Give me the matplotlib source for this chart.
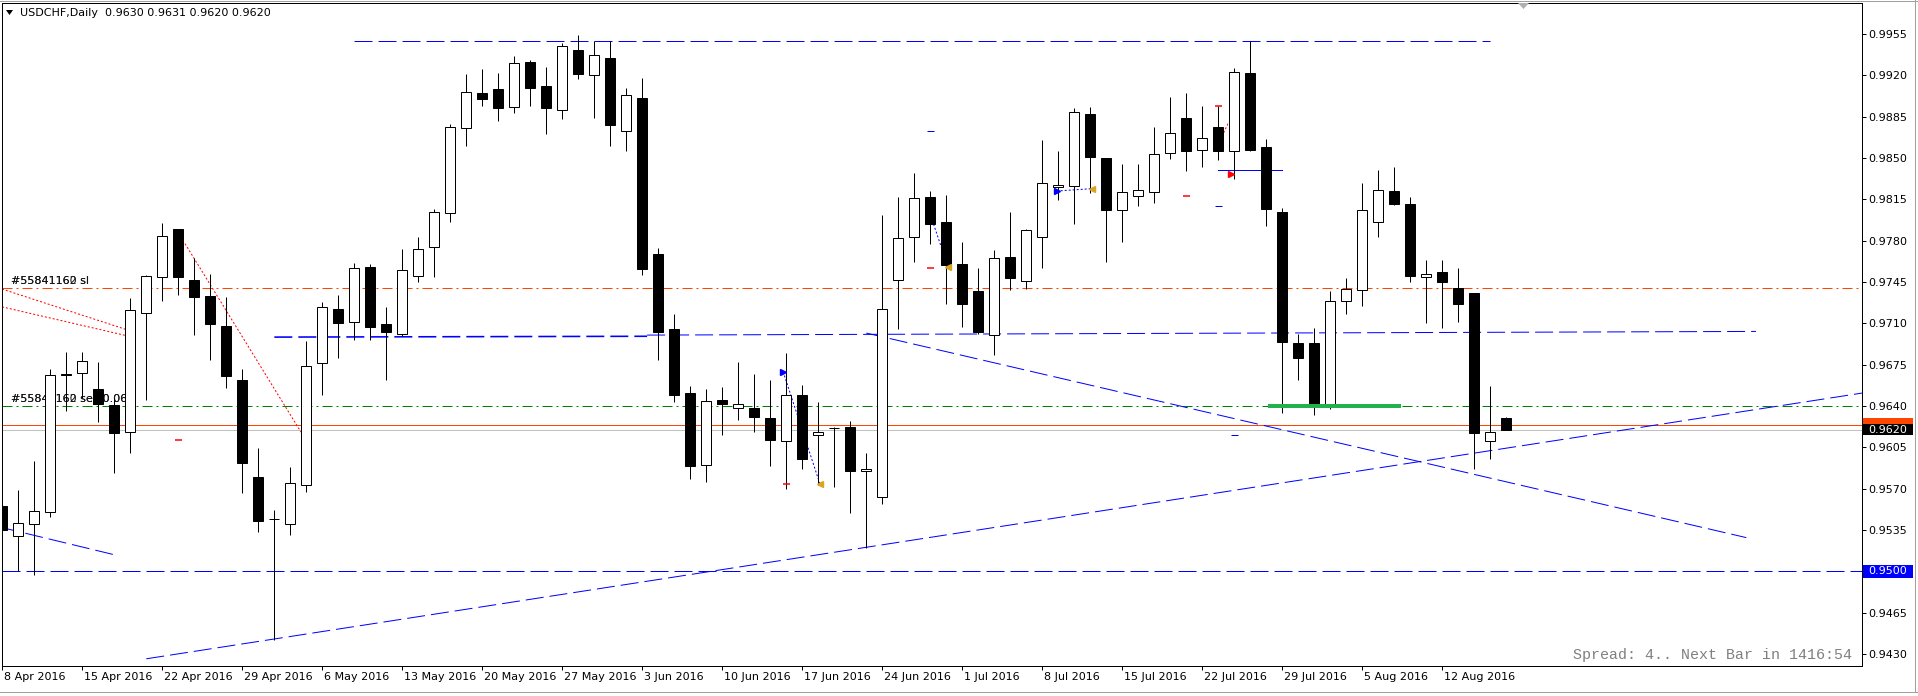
import matplotlib
matplotlib.use("Agg")
import matplotlib.pyplot as plt
import matplotlib.transforms as mtransforms
from matplotlib.patches import Rectangle, Polygon
from matplotlib.lines import Line2D

W, H, DPI = 1918, 696, 100
PX = 72.0 / DPI  # points per pixel

# ---------------- data (USDCHF daily candles, one per bar index) ----------------
opens = [0.9555, 0.9530, 0.9540, 0.9550, 0.9667, 0.9668, 0.9654, 0.9641, 0.9618, 0.9719,
         0.9749, 0.9790, 0.9747, 0.9733, 0.9708, 0.9662, 0.9580, 0.9544, 0.9540, 0.9573,
         0.9676, 0.9722, 0.9711, 0.9758, 0.9709, 0.9701, 0.9750, 0.9775, 0.9803, 0.9875,
         0.9905, 0.9908, 0.9893, 0.9931, 0.9911, 0.9891, 0.9941, 0.9920, 0.9935, 0.9873,
         0.9901, 0.9769, 0.9705, 0.9651, 0.9590, 0.9645, 0.9638, 0.9638, 0.9630, 0.9610,
         0.9649, 0.9615, 0.9621, 0.9622, 0.9585, 0.9563, 0.9747, 0.9783, 0.9817, 0.9796,
         0.9760, 0.9737, 0.9700, 0.9766, 0.9746, 0.9783, 0.9825, 0.9826, 0.9887, 0.9850,
         0.9806, 0.9818, 0.9821, 0.9854, 0.9884, 0.9857, 0.9876, 0.9856, 0.9922, 0.9859,
         0.9804, 0.9693, 0.9693, 0.9640, 0.9729, 0.9738, 0.9796, 0.9822, 0.9811, 0.9749,
         0.9753, 0.9740, 0.9736, 0.9610, 0.9630]
highs = [0.9581, 0.9569, 0.9593, 0.9671, 0.9686, 0.9686, 0.9677, 0.9647, 0.9731, 0.9751,
         0.9795, 0.9790, 0.9765, 0.9752, 0.9732, 0.9671, 0.9604, 0.9552, 0.9588, 0.9695,
         0.9728, 0.9734, 0.9761, 0.9760, 0.9724, 0.9773, 0.9783, 0.9807, 0.9879, 0.9921,
         0.9925, 0.9922, 0.9936, 0.9933, 0.9927, 0.9947, 0.9954, 0.9949, 0.9949, 0.9909,
         0.9918, 0.9774, 0.9718, 0.9657, 0.9654, 0.9656, 0.9677, 0.9667, 0.9662, 0.9685,
         0.9658, 0.9643, 0.9622, 0.9627, 0.9600, 0.9802, 0.9817, 0.9837, 0.9822, 0.9819,
         0.9779, 0.9757, 0.9772, 0.9804, 0.9790, 0.9865, 0.9856, 0.9892, 0.9893, 0.9850,
         0.9845, 0.9845, 0.9876, 0.9902, 0.9905, 0.9894, 0.9894, 0.9926, 0.9949, 0.9866,
         0.9808, 0.9701, 0.9706, 0.9737, 0.9748, 0.9829, 0.9840, 0.9842, 0.9817, 0.9764,
         0.9764, 0.9757, 0.9736, 0.9657, 0.9631]
lows = [0.9523, 0.9500, 0.9497, 0.9546, 0.9636, 0.9647, 0.9626, 0.9583, 0.9600, 0.9645,
        0.9729, 0.9734, 0.9700, 0.9679, 0.9655, 0.9566, 0.9533, 0.9442, 0.9531, 0.9567,
        0.9649, 0.9681, 0.9696, 0.9696, 0.9662, 0.9699, 0.9745, 0.9749, 0.9796, 0.9860,
        0.9894, 0.9881, 0.9888, 0.9894, 0.9870, 0.9883, 0.9917, 0.9884, 0.9860, 0.9856,
        0.9751, 0.9679, 0.9643, 0.9578, 0.9576, 0.9615, 0.9628, 0.9618, 0.9589, 0.9570,
        0.9587, 0.9573, 0.9571, 0.9549, 0.9520, 0.9557, 0.9705, 0.9762, 0.9777, 0.9726,
        0.9707, 0.9701, 0.9683, 0.9738, 0.9739, 0.9757, 0.9814, 0.9794, 0.9820, 0.9762,
        0.9779, 0.9809, 0.9812, 0.9849, 0.9839, 0.9842, 0.9848, 0.9832, 0.9856, 0.9792,
        0.9634, 0.9662, 0.9632, 0.9637, 0.9718, 0.9725, 0.9783, 0.9810, 0.9745, 0.9710,
        0.9706, 0.9711, 0.9587, 0.9595, 0.9620]
closes = [0.9535, 0.9541, 0.9551, 0.9666, 0.9666, 0.9678, 0.9642, 0.9617, 0.9721, 0.9750,
          0.9784, 0.9749, 0.9732, 0.9709, 0.9665, 0.9592, 0.9543, 0.9544, 0.9575, 0.9674,
          0.9724, 0.9710, 0.9757, 0.9707, 0.9703, 0.9755, 0.9773, 0.9804, 0.9876, 0.9906,
          0.9900, 0.9892, 0.9930, 0.9909, 0.9892, 0.9945, 0.9921, 0.9937, 0.9878, 0.9903,
          0.9756, 0.9703, 0.9649, 0.9589, 0.9644, 0.9642, 0.9642, 0.9631, 0.9611, 0.9649,
          0.9595, 0.9618, 0.9621, 0.9585, 0.9587, 0.9722, 0.9782, 0.9816, 0.9794, 0.9759,
          0.9726, 0.9703, 0.9765, 0.9748, 0.9789, 0.9829, 0.9827, 0.9889, 0.9851, 0.9806,
          0.9821, 0.9823, 0.9853, 0.9871, 0.9856, 0.9867, 0.9856, 0.9923, 0.9857, 0.9807,
          0.9694, 0.9681, 0.9640, 0.9729, 0.9739, 0.9806, 0.9823, 0.9811, 0.9750, 0.9752,
          0.9745, 0.9726, 0.9617, 0.9618, 0.9620]

date_tick_bars = [0, 5, 10, 15, 20, 25, 30, 35, 40, 45, 50, 55, 60, 65, 70, 75, 80, 85, 90]
date_labels = ["8 Apr 2016", "15 Apr 2016", "22 Apr 2016", "29 Apr 2016", "6 May 2016",
               "13 May 2016", "20 May 2016", "27 May 2016", "3 Jun 2016", "10 Jun 2016",
               "17 Jun 2016", "24 Jun 2016", "1 Jul 2016", "8 Jul 2016", "15 Jul 2016",
               "22 Jul 2016", "29 Jul 2016", "5 Aug 2016", "12 Aug 2016"]
price_ticks = [0.9955, 0.9920, 0.9885, 0.9850, 0.9815, 0.9780, 0.9745, 0.9710, 0.9675,
               0.9640, 0.9605, 0.9570, 0.9535, 0.9500, 0.9465, 0.9430]

bid_price = 0.9620
ask_price = 0.9624
sl_level = 0.9740
entry_level = 0.9640
support_level = 0.9500

# drawn objects: (x0, y0, x1, y1)
top_resistance = (22.0, 0.9949, 93.0, 0.9949)
mid_line_a = (17.0, 0.96983, 40.3, 0.96990)
mid_line_b = (40.3, 0.97000, 109.6, 0.97031)
rising_trend = (9.0, 0.94259, 116.23, 0.96509)
falling_trend = (54.0, 0.97017, 109.0, 0.95285)
small_left_trend = (-0.02, 0.9537, 7.0, 0.9514)
red_trade_1 = (-0.02, 0.9739, 7.7, 0.97049)
red_trade_2 = (-0.02, 0.97239, 7.7, 0.96997)
red_trade_3 = (11.42, 0.97774, 18.67, 0.96178)
blue_trade_1 = (48.8, 0.9669, 51.1, 0.9574)
blue_trade_2 = (58.2, 0.9794, 59.1, 0.9758)
blue_trade_3 = (65.9, 0.9822, 68.1, 0.9824)
red_trade_4 = (75.8, 0.9856, 76.6, 0.9879)
blue_short_solid = (76.0, 0.9840, 80.0, 0.9840)
green_zone = (79.1, 0.9640, 87.4, 0.9640)
red_marks = [(11.0, 0.9611), (49.0, 0.9574), (58.0, 0.9757), (74.0, 0.9818), (76.0, 0.9894)]
blue_marks = [(58.0, 0.9873), (76.0, 0.9809), (77.0, 0.9615)]
blue_arrows = [(48.8, 0.9669), (65.9, 0.9822)]
gold_arrows = [(51.1, 0.9574), (59.1, 0.9758), (68.1, 0.9824)]
red_arrows = [(76.8, 0.9836)]

# ---------------- figure ----------------
plt.rcParams["font.family"] = ["DejaVu Sans"]
plt.rcParams["lines.scale_dashes"] = False

fig = plt.figure(figsize=(W / DPI, H / DPI), dpi=DPI)
fig.patch.set_facecolor("white")
ax = fig.add_axes([2 / W, 1 - 666 / H, 1860 / W, 663 / H])
ax.set_facecolor("white")
ax.set_xlim(-0.02, 116.23)
ax.set_ylim(0.94198, 0.99812)

BLUE = "#0000ff"
ORANGE = "#ff4500"
DASH = (0, (18 * PX, 6 * PX))
DOT = (0, (2 * PX, 2 * PX))
DASHDOT = (0, (10 * PX, 4 * PX, 2 * PX, 4 * PX))

def seg(s, **kw):
    ax.plot([s[0], s[2]], [s[1], s[3]], **kw)

# labels of order lines (drawn under candles)
for t in ["#55841160 sl", "#55841162 sl"]:
    ax.text(0.54, 0.97459, t, fontsize=8, color="#151515", va="center", ha="left", zorder=1)
for t in ["#55841160 sell 0.06", "#55841162 sell 0.06"]:
    ax.text(0.54, 0.96457, t, fontsize=8, color="#151515", va="center", ha="left", zorder=1)

# horizontal levels
ax.axhline(sl_level, color=ORANGE, lw=PX, ls=DASHDOT, zorder=1.5)
ax.axhline(entry_level, color="#008000", lw=PX, ls=DASHDOT, zorder=1.5)
ax.axhline(support_level, color=BLUE, lw=PX, ls=DASH, zorder=1.5)
ax.axhline(bid_price, color="#c0c0c0", lw=PX, zorder=1.5)
ax.axhline(ask_price, color=ORANGE, lw=PX, zorder=1.5)

# trend / drawing lines
seg(top_resistance, color=BLUE, lw=PX, ls=DASH, zorder=1.6)
seg(mid_line_a, color=BLUE, lw=1.6 * PX, ls=DASH, zorder=1.6)
seg(mid_line_b, color=BLUE, lw=PX, ls=DASH, zorder=1.6)
seg(rising_trend, color=BLUE, lw=PX, ls=DASH, zorder=1.6)
seg(falling_trend, color=BLUE, lw=PX, ls=DASH, zorder=1.6)
seg(small_left_trend, color=BLUE, lw=PX, ls=DASH, zorder=1.6)
for s in (red_trade_1, red_trade_2, red_trade_3, red_trade_4):
    seg(s, color="red", lw=PX, ls=DOT, zorder=1.7)
for s in (blue_trade_1, blue_trade_2, blue_trade_3):
    seg(s, color=BLUE, lw=PX, ls=DOT, zorder=1.7)
seg(blue_short_solid, color=BLUE, lw=PX, zorder=1.7)

# candles
xs = list(range(len(opens)))
ax.vlines(xs, lows, highs, color="black", lw=PX, zorder=3)
BW = 0.64
for x, o, c in zip(xs, opens, closes):
    if abs(c - o) < 0.00005:
        ax.hlines(o, x - BW / 2, x + BW / 2, color="black", lw=PX, zorder=3.2)
    else:
        fc = "white" if c > o else "black"
        ax.bar(x, abs(c - o), bottom=min(o, c), width=BW, color=fc,
               edgecolor="black", linewidth=PX, zorder=3.1)

# green zone on top
seg(green_zone, color="#22b14c", lw=4 * PX, solid_capstyle="butt", zorder=4)

# small marks
for (x, y) in red_marks:
    ax.hlines(y, x - 0.22, x + 0.22, color="red", lw=1.5 * PX, zorder=4)
for (x, y) in blue_marks:
    ax.hlines(y, x - 0.22, x + 0.22, color=BLUE, lw=PX, zorder=4)
for (x, y) in blue_arrows:
    ax.plot(x, y, marker=">", ms=4, color=BLUE, mec=BLUE, zorder=4)
for (x, y) in gold_arrows:
    ax.plot(x, y, marker="<", ms=4, color="#daa520", mec="#daa520", zorder=4)
for (x, y) in red_arrows:
    ax.plot(x, y, marker=">", ms=4, color="red", mec="red", zorder=4)

# axes styling
for sp in ax.spines.values():
    sp.set_color("black")
    sp.set_linewidth(PX)
ax.yaxis.tick_right()
ax.set_yticks(price_ticks)
ax.set_yticklabels([f"{p:.4f}" for p in price_ticks])
ax.tick_params(axis="y", which="both", left=False, right=True, labelleft=False,
               labelright=True, length=4 * PX, width=PX, pad=2.5 * PX, labelsize=8,
               colors="black")
ax.set_xticks(date_tick_bars)
ax.set_xticklabels(date_labels, ha="left")
ax.tick_params(axis="x", length=4 * PX, width=PX, pad=2 * PX, labelsize=8, colors="black")
off = mtransforms.ScaledTranslation(2 / DPI, 0, fig.dpi_scale_trans)
for lbl in ax.get_xticklabels():
    lbl.set_transform(lbl.get_transform() + off)

# price boxes on the axis
trans = mtransforms.blended_transform_factory(fig.transFigure, ax.transData)
PPU = 11810.0  # pixels per price unit
def price_box(p, fc, h_px, label, tc):
    ax.add_patch(Rectangle((1863 / W, p - h_px / 2 / PPU), 50 / W, h_px / PPU,
                           transform=trans, facecolor=fc, edgecolor="none",
                           clip_on=False, zorder=10))
    if label:
        ax.text(1868 / W, p, label, transform=trans, color=tc, fontsize=8,
                va="center", ha="left", clip_on=False, zorder=11)

price_box(ask_price, ORANGE, 13, "", "white")
price_box(bid_price, "black", 11, f"{bid_price:.4f}", "white")
price_box(support_level, BLUE, 13, f"{support_level:.4f}", "white")

# header and status text
fig.text(20 / W, 1 - 13 / H, "USDCHF,Daily  0.9630 0.9631 0.9620 0.9620",
         fontsize=8, color="black", va="center", ha="left")
fig.add_artist(Polygon([[6 / W, 1 - 10 / H], [13 / W, 1 - 10 / H], [9.5 / W, 1 - 15 / H]],
                       closed=True, transform=fig.transFigure, facecolor="black",
                       edgecolor="none"))
ax.text((1852 - 2) / 1860, (666 - 655) / 663, "Spread: 4.. Next Bar in 1416:54",
        transform=ax.transAxes, family="Liberation Mono", fontsize=10.8,
        color="#808080", ha="right", va="center", zorder=5)

# chart-shift marker and window borders
fig.add_artist(Polygon([[1518 / W, 1 - 3 / H], [1529 / W, 1 - 3 / H], [1523.5 / W, 1 - 9 / H]],
                       closed=True, transform=fig.transFigure, facecolor="#b0b0b0",
                       edgecolor="none"))
fig.add_artist(Line2D([0, 1], [1 - 0.5 / H, 1 - 0.5 / H], transform=fig.transFigure,
                      color="#a0a0a0", lw=PX))
fig.add_artist(Line2D([0, 1], [1 - 692 / H, 1 - 692 / H], transform=fig.transFigure,
                      color="#a0a0a0", lw=PX))
fig.add_artist(Line2D([1915 / W, 1915 / W], [1 - 692 / H, 1], transform=fig.transFigure,
                      color="#a0a0a0", lw=PX))

fig.savefig("out.png", dpi=DPI, facecolor="white")
